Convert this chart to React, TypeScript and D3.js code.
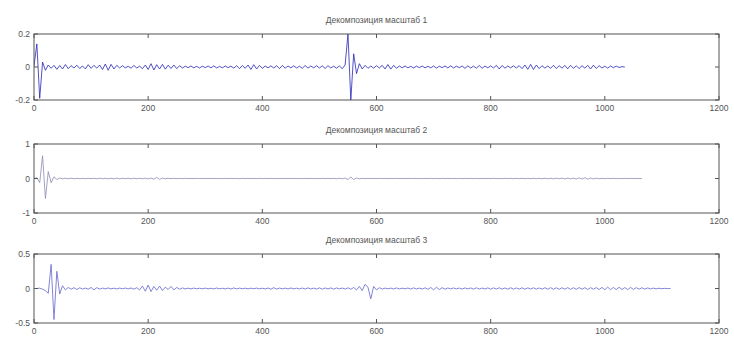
import * as d3 from "d3";
import React from "react";

// sample step of the decomposition signals (in x units)
const STEP = 5;

const titles = ["Декомпозиция масштаб 1", "Декомпозиция масштаб 2", "Декомпозиция масштаб 3"];
const xTicks = [0, 200, 400, 600, 800, 1000, 1200];
const yTicks1 = [-0.2, 0, 0.2];
const yTicks2 = [-1, 0, 1];
const yTicks3 = [-0.5, 0, 0.5];

// scale 1, x = 0..1035
const scale1 = [
  0.005, 0.14, -0.19, 0.03, -0.02, 0.012, -0.008, 0.01, -0.014, 0.009,
  -0.012, 0.015, -0.01, 0.008, -0.006, 0.011, -0.009, 0.006, -0.012, 0.014,
  -0.008, 0.01, -0.007, 0.012, -0.015, 0.018, -0.02, 0.016, -0.012, 0.01,
  -0.006, 0.008, -0.005, 0.004, -0.007, 0.009, -0.006, 0.005, -0.01, 0.012,
  -0.015, 0.02, -0.018, 0.014, -0.012, 0.016, -0.013, 0.011, -0.009, 0.012,
  -0.01, 0.008, -0.006, 0.005, -0.004, 0.006, -0.005, 0.004, -0.006, 0.005,
  -0.004, 0.006, -0.005, 0.007, -0.006, 0.004, -0.005, 0.006, -0.004, 0.005,
  -0.007, 0.008, -0.01, 0.009, -0.008, 0.012, -0.015, 0.014, -0.012, 0.01,
  -0.008, 0.006, -0.005, 0.007, -0.006, 0.008, -0.01, 0.009, -0.007, 0.006,
  -0.005, 0.007, -0.006, 0.005, -0.008, 0.009, -0.007, 0.006, -0.005, 0.008,
  -0.006, 0.007, -0.009, 0.008, -0.006, 0.005, -0.007, 0.006, -0.01, 0.012,
  0.2, -0.2, 0.08, -0.04, 0.02, -0.012, 0.01, -0.008, 0.006, -0.007,
  0.008, -0.006, 0.01, -0.012, 0.015, -0.013, 0.01, -0.008, 0.006, -0.005,
  0.006, -0.005, 0.004, -0.006, 0.005, -0.004, 0.006, -0.005, 0.004, -0.005,
  0.006, -0.007, 0.005, -0.004, 0.006, -0.005, 0.007, -0.006, 0.005, -0.004,
  0.006, -0.008, 0.007, -0.006, 0.005, -0.007, 0.009, -0.008, 0.006, -0.005,
  0.007, -0.006, 0.01, -0.012, 0.009, -0.007, 0.006, -0.005, 0.007, -0.006,
  0.008, -0.01, 0.012, -0.014, 0.016, -0.015, 0.012, -0.01, 0.008, -0.007,
  0.006, -0.008, 0.01, -0.009, 0.008, -0.007, 0.009, -0.011, 0.01, -0.008,
  0.007, -0.009, 0.008, -0.007, 0.01, -0.012, 0.011, -0.009, 0.008, -0.006,
  0.005, -0.007, 0.006, -0.004, 0.005, -0.003, 0.002, 0.0,
];

// scale 2, x = 0..1065
const scale2 = [
  0, 0.02, -0.12, 0.66, -0.58, 0.2, -0.12, 0.05, -0.03, 0.015,
  -0.01, 0.008, -0.006, 0.01, -0.008, 0.006, -0.005, 0.004, -0.006, 0.005,
  -0.004, 0.006, -0.008, 0.01, -0.007, 0.005, -0.006, 0.008, -0.01, 0.012,
  -0.009, 0.007, -0.006, 0.008, -0.01, 0.009, -0.007, 0.006, -0.008, 0.01,
  -0.012, 0.015, -0.02, 0.03, -0.025, 0.015, -0.01, 0.006, -0.004, 0.003,
  -0.003, 0.002, -0.003, 0.004, -0.003, 0.002, -0.002, 0.003, -0.002, 0.002,
  -0.003, 0.002, -0.002, 0.003, -0.002, 0.002, -0.003, 0.002, -0.002, 0.003,
  -0.002, 0.003, -0.004, 0.003, -0.002, 0.004, -0.003, 0.002, -0.003, 0.004,
  -0.003, 0.002, -0.002, 0.003, -0.002, 0.002, -0.003, 0.002, -0.002, 0.003,
  -0.002, 0.003, -0.002, 0.002, -0.003, 0.002, -0.002, 0.003, -0.002, 0.002,
  -0.003, 0.004, -0.003, 0.002, -0.003, 0.004, -0.005, 0.006, -0.008, 0.012,
  -0.03, 0.045, -0.03, 0.015, -0.008, 0.005, -0.004, 0.003, -0.002, 0.002,
  -0.002, 0.003, -0.002, 0.002, -0.003, 0.002, -0.002, 0.003, -0.002, 0.002,
  -0.003, 0.002, -0.002, 0.003, -0.002, 0.002, -0.003, 0.002, -0.002, 0.003,
  -0.002, 0.003, -0.004, 0.003, -0.002, 0.004, -0.003, 0.002, -0.003, 0.004,
  -0.003, 0.002, -0.002, 0.003, -0.002, 0.002, -0.003, 0.002, -0.002, 0.003,
  -0.004, 0.005, -0.004, 0.003, -0.005, 0.006, -0.004, 0.005, -0.006, 0.005,
  -0.004, 0.006, -0.005, 0.004, -0.006, 0.007, -0.005, 0.006, -0.008, 0.007,
  -0.006, 0.008, -0.01, 0.009, -0.007, 0.01, -0.012, 0.01, -0.009, 0.012,
  -0.015, 0.02, -0.018, 0.025, -0.02, 0.015, -0.012, 0.01, -0.008, 0.006,
  -0.006, 0.005, -0.004, 0.005, -0.004, 0.003, -0.004, 0.003, -0.002, 0.003,
  -0.002, 0.002, -0.001, 0,
];

// scale 3, x = 0..1115
const scale3 = [
  0, 0, 0.005, -0.01, -0.03, -0.07, 0.35, -0.45, 0.25, -0.08,
  0.04, -0.02, 0.015, -0.01, 0.012, -0.015, 0.01, -0.008, 0.006, -0.01,
  0.015, -0.02, 0.012, -0.008, 0.006, -0.005, 0.008, -0.006, 0.005, -0.007,
  0.006, -0.005, 0.007, -0.006, 0.008, -0.01, 0.012, -0.02, 0.035, -0.04,
  0.05, -0.045, 0.03, -0.025, 0.035, -0.03, 0.02, -0.015, 0.03, -0.02,
  0.015, -0.01, 0.008, -0.006, 0.005, -0.006, 0.007, -0.005, 0.004, -0.005,
  0.006, -0.005, 0.004, -0.006, 0.007, -0.005, 0.004, -0.005, 0.006, -0.007,
  0.008, -0.006, 0.005, -0.004, 0.005, -0.006, 0.005, -0.004, 0.006, -0.005,
  0.004, -0.006, 0.007, -0.01, 0.012, -0.008, 0.006, -0.005, 0.006, -0.007,
  0.008, -0.006, 0.005, -0.006, 0.007, -0.008, 0.009, -0.007, 0.006, -0.008,
  0.009, -0.01, 0.008, -0.007, 0.009, -0.01, 0.008, -0.006, 0.007, -0.008,
  0.01, -0.012, 0.015, -0.02, 0.03, -0.03, 0.06, 0.02, -0.15, 0.03,
  -0.02, 0.012, -0.008, 0.006, -0.005, 0.006, -0.007, 0.008, -0.006, 0.005,
  -0.006, 0.007, -0.008, 0.009, -0.007, 0.006, -0.008, 0.01, -0.012, 0.015,
  -0.02, 0.018, -0.015, 0.012, -0.01, 0.008, -0.007, 0.008, -0.006, 0.007,
  -0.008, 0.009, -0.007, 0.008, -0.009, 0.01, -0.008, 0.007, -0.008, 0.009,
  -0.01, 0.009, -0.008, 0.01, -0.009, 0.008, -0.01, 0.011, -0.009, 0.008,
  -0.009, 0.01, -0.011, 0.009, -0.008, 0.01, -0.009, 0.008, -0.01, 0.011,
  -0.01, 0.012, -0.011, 0.01, -0.012, 0.011, -0.01, 0.012, -0.013, 0.011,
  -0.012, 0.013, -0.011, 0.012, -0.014, 0.012, -0.011, 0.013, -0.015, 0.016,
  -0.018, 0.02, -0.017, 0.015, -0.016, 0.018, -0.015, 0.014, -0.016, 0.015,
  -0.013, 0.012, -0.01, 0.011, -0.009, 0.008, -0.007, 0.006, -0.005, 0.004,
  -0.003, 0.002, -0.001, 0,
];

const W = 734;
const H = 338;
const left = 34;
const right = 719;
const font = "Liberation Sans, Arial, sans-serif";
const textColor = "#555";

const panels = [
  { title: titles[0], values: scale1, yTicks: yTicks1, top: 34, bottom: 100, color: "#2626b8", width: 0.8 },
  { title: titles[1], values: scale2, yTicks: yTicks2, top: 144, bottom: 213, color: "#8a8ab4", width: 0.8 },
  { title: titles[2], values: scale3, yTicks: yTicks3, top: 254, bottom: 323, color: "#7676d4", width: 0.9 },
];

function Panel({ p, i }: { p: any; i: number }) {
  const x = d3.scaleLinear().domain([0, 1200]).range([left, right]);
  const y = d3
    .scaleLinear()
    .domain([p.yTicks[0], p.yTicks[2]])
    .range([p.bottom, p.top]);
  const line = d3
    .line<number>()
    .x((d, k) => x(k * STEP))
    .y((d) => y(d));
  const tick = 4;
  return (
    <g>
      <defs>
        <clipPath id={"clip" + i}>
          <rect x={left} y={p.top} width={right - left} height={p.bottom - p.top} />
        </clipPath>
      </defs>
      <text x={(left + right) / 2} y={p.top - 11} textAnchor="middle" fontSize={8.5} fill={textColor} fontFamily={font}>
        {p.title}
      </text>
      <path d={line(p.values) || ""} fill="none" stroke={p.color} strokeWidth={p.width} clipPath={`url(#clip${i})`} />
      <rect x={left} y={p.top} width={right - left} height={p.bottom - p.top} fill="none" stroke="#555" strokeWidth={1} />
      {xTicks.map((t) => (
        <g key={"x" + t}>
          <line x1={x(t)} x2={x(t)} y1={p.bottom} y2={p.bottom - tick} stroke="#555" />
          <line x1={x(t)} x2={x(t)} y1={p.top} y2={p.top + tick} stroke="#555" />
          <text x={x(t)} y={p.bottom + 11} textAnchor="middle" fontSize={8.5} fill={textColor} fontFamily={font}>
            {t}
          </text>
        </g>
      ))}
      {p.yTicks.map((t: number) => (
        <g key={"y" + t}>
          <line x1={left} x2={left + tick} y1={y(t)} y2={y(t)} stroke="#555" />
          <line x1={right} x2={right - tick} y1={y(t)} y2={y(t)} stroke="#555" />
          <text x={left - 4} y={y(t) + 3} textAnchor="end" fontSize={8.5} fill={textColor} fontFamily={font}>
            {t}
          </text>
        </g>
      ))}
    </g>
  );
}

export default function App() {
  return (
    <div style={{ position: "absolute", left: 0, top: 0 }}>
      <svg width={W} height={H} style={{ display: "block", background: "#fff" }}>
        {panels.map((p, i) => (
          <Panel key={i} p={p} i={i} />
        ))}
      </svg>
    </div>
  );
}
